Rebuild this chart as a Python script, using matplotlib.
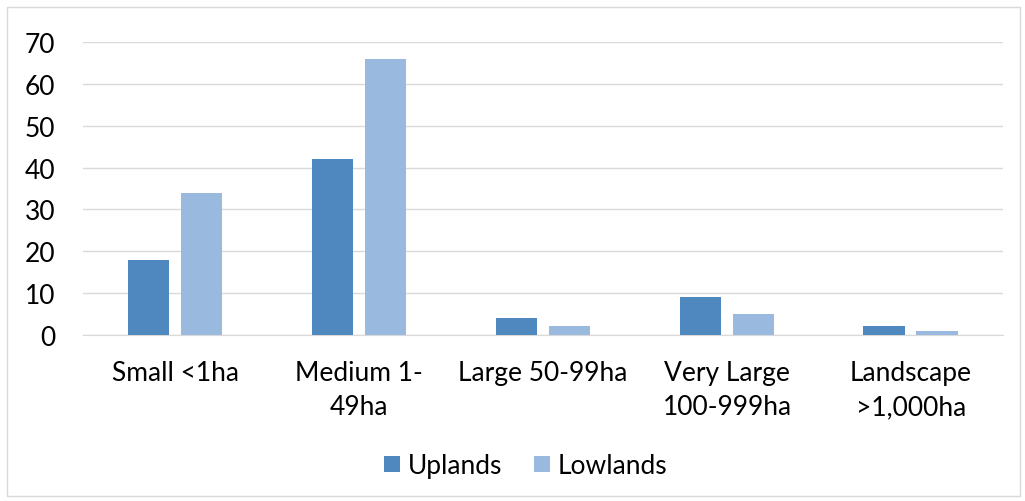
import matplotlib.pyplot as plt
import numpy as np
from matplotlib.patches import Rectangle

categories = ["Small <1ha", "Medium 1-\n49ha", "Large 50-99ha", "Very Large\n100-999ha", "Landscape\n>1,000ha"]
uplands = [18, 42, 4, 9, 2]
lowlands = [34, 66, 2, 5, 1]

plt.rcParams['font.family'] = ['Lato', 'DejaVu Sans']

fig = plt.figure(figsize=(10.25, 5.02), dpi=100)
ax = fig.add_axes([0.081, 0.331, 0.8975, 0.583])

x = np.arange(len(categories))
w = 0.228
gap = 0.03
ax.bar(x - w / 2 - gap, uplands, w, color='#4F88BE', label='Uplands', zorder=3)
ax.bar(x + w / 2 + gap, lowlands, w, color='#99B9DF', label='Lowlands', zorder=3)

ax.set_xlim(-0.5, len(categories) - 0.5)
ax.set_ylim(0, 70)
ax.set_yticks(range(0, 71, 10))
ax.set_xticks(x)
ax.set_xticklabels(categories, fontsize=19, color='#000000', linespacing=1.45)
ax.tick_params(axis='y', labelsize=19, length=0, pad=20)
ax.tick_params(axis='x', length=0, pad=18)
ax.grid(axis='y', color='#D9D9D9', linewidth=1, zorder=0)
for s in ['top', 'right', 'left']:
    ax.spines[s].set_visible(False)
ax.spines['bottom'].set_color('#D9D9D9')

fig.legend(loc='center', bbox_to_anchor=(0.513, 0.07), ncol=2, frameon=False,
           fontsize=19, handlelength=0.6, handleheight=0.6, columnspacing=1.2, handletextpad=0.3)

fig.patches.append(Rectangle((0.007, 0.01), 0.988, 0.975, transform=fig.transFigure,
                             fill=False, edgecolor='#D9D9D9', linewidth=1))

fig.savefig('out.png', dpi=100)
